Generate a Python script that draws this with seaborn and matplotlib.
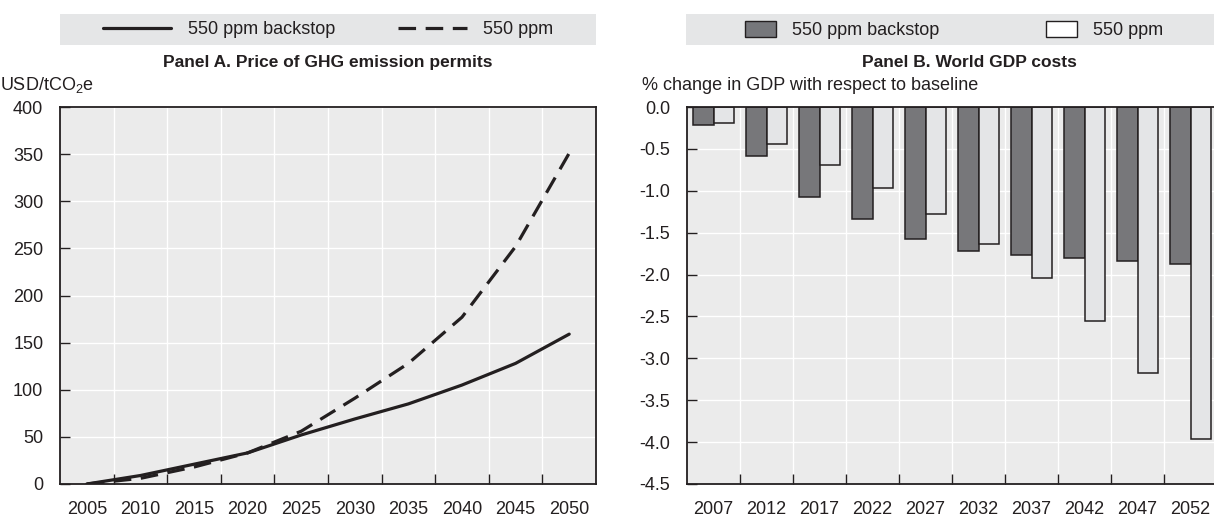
import numpy as np
import pandas as pd
import matplotlib
matplotlib.use("Agg")
import matplotlib.pyplot as plt
import seaborn as sns
from matplotlib import font_manager
from matplotlib.lines import Line2D
from matplotlib.patches import Patch, Rectangle
from matplotlib.ticker import FixedLocator, FormatStrFormatter, NullFormatter

# ---------------- data ----------------
years_a = [2005, 2010, 2015, 2020, 2025, 2030, 2035, 2040, 2045, 2050]
price_backstop = [0, 9, 21, 33, 52, 69, 85, 105, 128, 159]
price_550 = [0, 6, 18, 33, 56, 91, 128, 177, 252, 351]

years_b = ["2007", "2012", "2017", "2022", "2027", "2032", "2037", "2042", "2047", "2052"]
gdp_backstop = [-0.21, -0.58, -1.07, -1.34, -1.57, -1.72, -1.77, -1.80, -1.84, -1.87]
gdp_550 = [-0.19, -0.44, -0.69, -0.97, -1.28, -1.63, -2.04, -2.55, -3.18, -3.96]

series_names = ["550 ppm backstop", "550 ppm"]
yticks_a = [0, 50, 100, 150, 200, 250, 300, 350, 400]
yticks_b = [0.0, -0.5, -1.0, -1.5, -2.0, -2.5, -3.0, -3.5, -4.0, -4.5]

# ---------------- style ----------------
sns.set_theme(style="white")
names = {f.name for f in font_manager.fontManager.ttflist}
base_font = "Liberation Sans Narrow" if "Liberation Sans Narrow" in names else "Liberation Sans"
plt.rcParams["font.family"] = [base_font, "DejaVu Sans"]
plt.rcParams["axes.unicode_minus"] = False
plt.rcParams["mathtext.fontset"] = "custom"
plt.rcParams["mathtext.rm"] = base_font

INK = "#231f20"
BG = "#ebebeb"
BAND = "#e5e6e7"
DARK = "#76777b"
LIGHT = "#e4e5e7"
FS = 13

W, H = 1214, 517
fig = plt.figure(figsize=(W / 100, H / 100), dpi=100)

def px_axes(l, r, t, b):
    return [l / W, 1 - b / H, (r - l) / W, (b - t) / H]

axA = fig.add_axes(px_axes(60, 596, 107, 484))
axB = fig.add_axes(px_axes(687, 1217, 107, 484))

for ax in (axA, axB):
    ax.set_facecolor(BG)
    ax.set_axisbelow(True)
    for s in ax.spines.values():
        s.set_color(INK)
        s.set_linewidth(1.3)

# ---------------- Panel A ----------------
df_a = pd.DataFrame({
    "Year": years_a * 2,
    "Price": price_backstop + price_550,
    "Scenario": [series_names[0]] * len(years_a) + [series_names[1]] * len(years_a),
})
sns.lineplot(data=df_a, x="Year", y="Price", hue="Scenario", style="Scenario",
             hue_order=series_names, style_order=series_names,
             palette={series_names[0]: INK, series_names[1]: INK},
             dashes={series_names[0]: "", series_names[1]: (5.5, 3)},
             linewidth=2.3, legend=False, ax=axA)
axA.set_xlim(2002.5, 2052.5)
axA.set_ylim(0, 400)
axA.xaxis.set_major_locator(FixedLocator([y + 2.5 for y in years_a[:-1]]))
axA.xaxis.set_major_formatter(NullFormatter())
axA.set_xticks(years_a, minor=True)
axA.set_xticklabels([str(y) for y in years_a], minor=True)
axA.set_yticks(yticks_a)
axA.set_yticklabels([str(v) for v in yticks_a])
axA.grid(True, which="major", color="white", linewidth=1.0)
axA.set_xlabel("")
axA.set_ylabel("")

# ---------------- Panel B ----------------
df_b = pd.DataFrame({
    "Year": years_b * 2,
    "Change": gdp_backstop + gdp_550,
    "Scenario": [series_names[0]] * len(years_b) + [series_names[1]] * len(years_b),
})
sns.barplot(data=df_b, x="Year", y="Change", hue="Scenario", order=years_b,
            hue_order=series_names,
            palette={series_names[0]: DARK, series_names[1]: LIGHT},
            edgecolor=INK, linewidth=1.1, width=0.78, errorbar=None,
            legend=False, ax=axB)
axB.set_xlim(-0.5, 9.5)
axB.set_ylim(-4.5, 0)
axB.xaxis.set_major_locator(FixedLocator([i + 0.5 for i in range(len(years_b) - 1)]))
axB.xaxis.set_major_formatter(NullFormatter())
axB.set_xticks(range(len(years_b)), minor=True)
axB.set_xticklabels(years_b, minor=True)
axB.set_yticks(yticks_b)
axB.yaxis.set_major_formatter(FormatStrFormatter("%.1f"))
axB.grid(True, which="major", color="white", linewidth=1.0)
axB.set_xlabel("")
axB.set_ylabel("")

for ax in (axA, axB):
    ax.tick_params(axis="both", which="major", direction="in", length=7, width=1.0,
                   color=INK, labelcolor=INK, labelsize=FS)
    ax.tick_params(axis="x", which="major", bottom=True, top=False)
    ax.tick_params(axis="y", which="major", left=True, right=False, pad=12)
    ax.tick_params(axis="x", which="minor", length=0, pad=12.5, labelsize=FS, labelcolor=INK)

# ---------------- texts ----------------
fig.text(328 / W, 1 - 63 / H, "Panel A. Price of GHG emission permits", ha="center",
         va="center", fontsize=12.5, fontweight="bold", color=INK)
fig.text(969 / W, 1 - 63 / H, "Panel B. World GDP costs", ha="center",
         va="center", fontsize=12.5, fontweight="bold", color=INK)
fig.text(0 / W, 1 - 85 / H, r"USD/tCO$_\mathregular{2}$e", ha="left", va="center",
         fontsize=FS, color=INK)
fig.text(642 / W, 1 - 85 / H, "% change in GDP with respect to baseline", ha="left",
         va="center", fontsize=FS, color=INK)

# ---------------- legend bands ----------------
fig.add_artist(Rectangle((60 / W, 1 - 45 / H), 536 / W, 31 / H, transform=fig.transFigure,
                         facecolor=BAND, edgecolor="none", zorder=0))
fig.add_artist(Rectangle((686 / W, 1 - 45 / H), 530 / W, 31 / H, transform=fig.transFigure,
                         facecolor=BAND, edgecolor="none", zorder=0))

hA = [Line2D([0], [0], color=INK, lw=2.3),
      Line2D([0], [0], color=INK, lw=2.3, dashes=(5.5, 3))]
legA = fig.legend(hA, series_names, loc="center", bbox_to_anchor=(328 / W, 1 - 30 / H),
                  ncol=2, frameon=False, fontsize=FS, handlelength=3.8,
                  handletextpad=0.9, columnspacing=3.5, labelcolor=INK)

hB = [Patch(facecolor=DARK, edgecolor=INK, linewidth=1.0),
      Patch(facecolor="white", edgecolor=INK, linewidth=1.0)]
legB = fig.legend(hB, series_names, loc="center", bbox_to_anchor=(954 / W, 1 - 30 / H),
                  ncol=2, frameon=False, fontsize=FS, handlelength=1.7, handleheight=0.95,
                  handletextpad=0.9, columnspacing=5.9, labelcolor=INK)

fig.savefig("out.png", dpi=100)
